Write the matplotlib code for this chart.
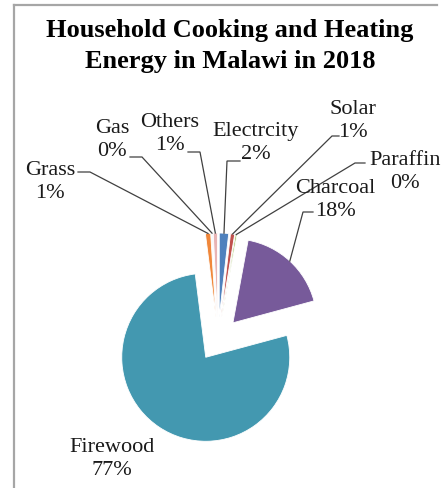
import math
import matplotlib.pyplot as plt
from matplotlib.lines import Line2D

W, H = 446, 488

# data (percent of households)
sources = ["Electrcity", "Solar", "Paraffin", "Charcoal", "Firewood", "Grass", "Gas", "Others"]
shares = [1.8, 0.8, 0.3, 17.9, 77.2, 1.0, 0.2, 0.8]
colours = ["#4F81BD", "#C0504D", "#9BBB59", "#775A9A", "#4398B0",
           "#F0873A", "#C9D3E8", "#E8B4B4"]

# label layout in picture pixels: text centre, leader anchor, tick length
label_layout = {
    "Electrcity": ((256, 143), (240, 161), -13),
    "Solar":      ((353, 121), (339, 136), -7),
    "Paraffin":   ((405, 172), (365, 163), -10),
    "Charcoal":   ((335, 200), (313, 212), -10),
    "Firewood":   ((112, 459), None, 0),
    "Grass":      ((50, 182), (78, 172), 12),
    "Gas":        ((112, 140), (130, 157), 12),
    "Others":     ((170, 134), (188, 152), 12),
}


def px(x, y):
    # picture pixel -> data coords (y up)
    return x, H - y


fig = plt.figure(figsize=(W / 100, H / 100), dpi=100)
ax = fig.add_axes([0, 0, 1, 1])

wedges, _ = ax.pie(shares, colors=colours, startangle=90, counterclock=False,
                   center=px(218, 339), radius=84, explode=[22] * len(shares),
                   wedgeprops=dict(edgecolor="white", linewidth=0.6))
ax.set_xlim(0, W)
ax.set_ylim(0, H)
ax.set_aspect("equal")
ax.axis("off")

serif = ["Liberation Serif", "DejaVu Serif"]

for name, share, w in zip(sources, shares, wedges):
    (tx, ty), anchor, tick = label_layout[name]
    ax.text(*px(tx, ty), f"{name}\n{round(share)}%", ha="center", va="center",
            family=serif, fontsize=16, linespacing=1.3, color="#1a1a1a")
    if anchor is None:
        continue
    mid = math.radians((w.theta1 + w.theta2) / 2)
    ex = w.center[0] + w.r * math.cos(mid)
    ey = w.center[1] + w.r * math.sin(mid)
    ax_, ay_ = px(*anchor)
    ax.plot([ax_, ax_ + tick, ex], [ay_, ay_, ey], color="#404040", lw=0.9,
            solid_joinstyle="miter")

ax.text(*px(230, 46), "Household Cooking and Heating\nEnergy in Malawi in 2018",
        ha="center", va="center", family=serif, fontsize=19,
        fontweight="bold", linespacing=1.4)

# chart-area border (left and top edges are visible)
fig.add_artist(Line2D([14 / W, 14 / W], [0, 1 - 5 / H], color="#a6a6a6", lw=1.6))
fig.add_artist(Line2D([14 / W, 437 / W], [1 - 5 / H, 1 - 5 / H], color="#a6a6a6", lw=1.6))

fig.savefig("out.png", dpi=100)
